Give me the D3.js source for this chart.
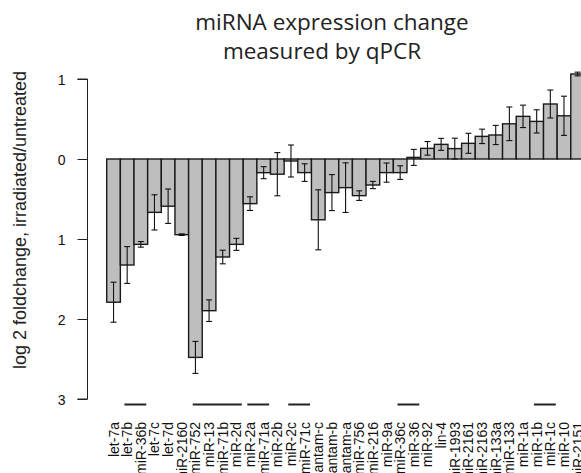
<!DOCTYPE html>
<html><head><meta charset="utf-8">
<script src="https://cdn.jsdelivr.net/npm/d3@7"></script>
<style>body{margin:0;background:#fff}svg{display:block}</style>
</head><body>
<svg id="c" width="581" height="473"></svg>
<script>
const categories = ["let-7a","let-7b","miR-36b","let-7c","let-7d","miR-2160","miR-752","miR-13","miR-71b","miR-2d","miR-2a","miR-71a","miR-2b","miR-2c","miR-71c","bantam-c","bantam-b","bantam-a","miR-756","miR-216","miR-9a","miR-36c","miR-36","miR-92","lin-4","miR-1993","miR-2161","miR-2163","miR-133a","miR-133","miR-1a","miR-1b","miR-1c","miR-10","miR-2151"];
const values = [-1.79,-1.325,-1.067,-0.667,-0.59,-0.946,-2.48,-1.896,-1.225,-1.067,-0.558,-0.171,-0.19,-0.025,-0.17,-0.76,-0.42,-0.358,-0.458,-0.325,-0.17,-0.17,0.02,0.133,0.183,0.13,0.196,0.283,0.30,0.44,0.533,0.47,0.6875,0.54,1.0625];
const errors = [0.25,0.23,0.035,0.22,0.215,0.01,0.2,0.135,0.085,0.075,0.085,0.075,0.27,0.2,0.11,0.375,0.225,0.31,0.06,0.045,0.12,0.085,0.1,0.085,0.075,0.13,0.125,0.09,0.12,0.21,0.14,0.145,0.175,0.245,0.023];
const groups = [[1,2],[6,9],[10,11],[13,14],[21,22],[31,32]];
const tickValues = [1,0,-1,-2,-3];
const tickLabels = ["1","0","1","2","3"];
const titleLines = ["miRNA expression change","measured by qPCR"];
const yTitle = "log 2 foldchange, irradiated/untreated";

const svg = d3.select("#c");
const x = d3.scaleBand().domain(categories).range([106.7, 106.7 + 13.65*categories.length]).padding(0);
const y = d3.scaleLinear().domain([-3, 1]).range([399, 79]);
const bw = x.bandwidth();

// bars
svg.append("g").selectAll("rect").data(values).join("rect")
  .attr("x", (d,i)=>x(categories[i]))
  .attr("width", bw)
  .attr("y", d=>y(Math.max(0,d)))
  .attr("height", d=>Math.abs(y(d)-y(0)))
  .attr("fill", "#bebebe").attr("stroke", "#1a1a1a").attr("stroke-width", 1.4);

// error bars
const eg = svg.append("g").attr("stroke","#111").attr("stroke-width",1.1);
values.forEach((v,i)=>{
  const cx = x(categories[i]) + bw/2;
  const lo = y(v - errors[i]), hi = y(v + errors[i]);
  eg.append("line").attr("x1",cx).attr("x2",cx).attr("y1",lo).attr("y2",hi);
  eg.append("line").attr("x1",cx-3).attr("x2",cx+3).attr("y1",lo).attr("y2",lo);
  eg.append("line").attr("x1",cx-3).attr("x2",cx+3).attr("y1",hi).attr("y2",hi);
});

// y axis
const ax = d3.axisLeft(y).tickValues(tickValues).tickSize(10).tickFormat((d,i)=>tickLabels[i]);
const ag = svg.append("g").attr("transform","translate(87.5,0)").call(ax);
ag.select(".domain").attr("stroke","#222").attr("d","M-10,"+y(1)+"H0V"+y(-3)+"H-10");
ag.selectAll(".tick line").attr("stroke","#222");
ag.selectAll(".tick text").attr("x",-22).attr("dy","0.36em")
  .attr("font-family","Liberation Sans, Arial, sans-serif").attr("font-size",14).attr("fill","#111");

// y title
svg.append("text").attr("transform","translate(26,220) rotate(-90)")
  .attr("text-anchor","middle").attr("font-family","Liberation Sans, Arial, sans-serif")
  .attr("font-size",18).attr("fill","#222").text(yTitle);

// x labels
svg.append("g").selectAll("text").data(categories).join("text")
  .attr("transform", d=>`translate(${x(d)+bw/2+5},422) rotate(-90)`)
  .attr("text-anchor","end").attr("font-family","Liberation Sans, Arial, sans-serif")
  .attr("font-size",14).attr("fill","#111").text(d=>d);

// group underlines
svg.append("g").selectAll("line").data(groups).join("line")
  .attr("x1", g=>x(categories[g[0]]) + bw*0.3)
  .attr("x2", g=>x(categories[g[1]]) + bw*0.9)
  .attr("y1", 404.5).attr("y2", 404.5)
  .attr("stroke","#222").attr("stroke-width",2);

// title
svg.append("g").selectAll("text").data(titleLines).join("text")
  .attr("x", (d,i)=> i===0 ? 332 : 322).attr("y", (d,i)=>30 + i*29)
  .attr("text-anchor","middle").attr("font-family","Open Sans, Noto Sans, sans-serif")
  .attr("font-size",22.5).attr("fill","#222").text(d=>d);
</script>
</body></html>
